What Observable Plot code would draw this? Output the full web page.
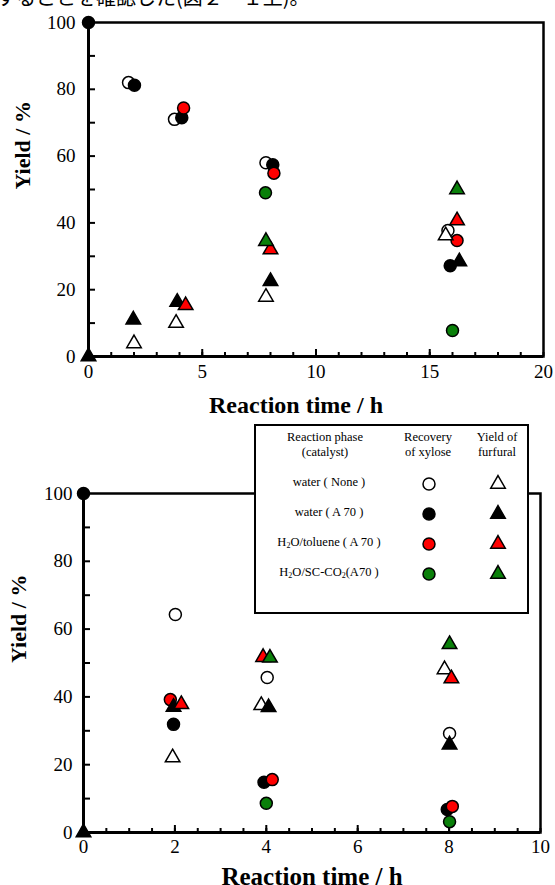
<!DOCTYPE html>
<html>
<head>
<meta charset="utf-8">
<script src="https://cdn.jsdelivr.net/npm/d3@7"></script>
<script src="https://cdn.jsdelivr.net/npm/@observablehq/plot@0.6"></script>
<style>
  html, body { margin: 0; padding: 0; background: #fff; }
  #page { position: relative; width: 555px; height: 885px; overflow: hidden; background: #fff; }
  #topText { position: absolute; left: -4px; top: -13px; font-family: "Noto Sans CJK JP", sans-serif; font-size: 20px; line-height: 20px; white-space: nowrap; color: #000; }
  #chartTop { position: absolute; left: 0; top: 0; }
  #chartBottom { position: absolute; left: 0; top: 420px; }
  #legend { position: absolute; left: 254px; top: 424px; width: 275px; height: 190px; box-sizing: border-box;
            border: 2px solid #000; background: #fff; font-family: "Liberation Serif", "Times New Roman", Times, "DejaVu Serif", serif; font-size: 12.5px; color: #000; }
  #legend .t { position: absolute; transform: translate(-50%, -50%); white-space: nowrap; text-align: center; line-height: 15px; }
  #legend sub { font-size: 8px; vertical-align: -2px; line-height: 0; }
  #legend svg { position: absolute; overflow: visible; }
</style>
</head>
<body>
<div id="page">
  <div id="chartTop"></div>
  <div id="chartBottom"></div>
  <div id="topText">することを確認した(図２－１上)。</div>
  <div id="legend"></div>
</div>
<script>
// ---------------- data ----------------
const phases = ["water ( None )", "water ( A 70 )", "H2O/toluene ( A 70 )", "H2O/SC-CO2(A70 )"];
const phaseFill = ["#ffffff", "#000000", "#ff0000", "#0a800a"];

// Top chart: [time h, yield %]
const topXyloseNone    = [[1.76, 82.0], [3.78, 71.0], [7.8, 58.0], [15.8, 37.7]];
const topXyloseA70     = [[0, 100], [2.02, 81.2], [4.1, 71.5], [8.1, 57.4], [15.9, 27.2]];
const topXyloseToluene = [[4.18, 74.4], [8.15, 54.9], [16.2, 34.7]];
const topXyloseSCCO2   = [[7.78, 49.0], [16.0, 7.8]];
const topFurfuralNone    = [[2.0, 3.9], [3.85, 10.0], [7.8, 17.8], [15.7, 36.2]];
const topFurfuralA70     = [[0, 0], [1.97, 11.0], [3.9, 16.3], [8.0, 22.5], [16.3, 28.4]];
const topFurfuralToluene = [[4.27, 15.3], [8.0, 32.0], [16.2, 40.7]];
const topFurfuralSCCO2   = [[7.8, 34.5], [16.2, 50.0]];

// Bottom chart: [time h, yield %]
const botXyloseNone    = [[2.01, 64.3], [4.02, 45.7], [8.01, 29.2]];
const botXyloseA70     = [[0, 100], [1.97, 31.9], [3.95, 14.8], [7.96, 6.8]];
const botXyloseToluene = [[1.9, 39.2], [4.13, 15.6], [8.07, 7.7]];
const botXyloseSCCO2   = [[4.0, 8.6], [8.01, 3.2]];
const botFurfuralNone    = [[1.95, 22.1], [3.89, 37.5], [7.9, 48.1]];
const botFurfuralA70     = [[0, 0], [1.97, 37.0], [4.05, 36.9], [8.01, 25.9]];
const botFurfuralToluene = [[2.14, 37.8], [3.93, 51.7], [8.05, 45.4]];
const botFurfuralSCCO2   = [[4.08, 51.5], [8.01, 55.5]];

// ticks
const yLabelTicks = [0, 20, 40, 60, 80, 100];
const yMinorTicks = [0, 10, 20, 30, 40, 50, 60, 70, 80, 90, 100];
const topXLabelTicks = [0, 5, 10, 15, 20];
const topXMinorTicks = d3.range(0, 21, 1);
const botXLabelTicks = [0, 2, 4, 6, 8, 10];
const botXMinorTicks = d3.range(0, 10.01, 0.5);

const xTitle = "Reaction time / h";
const yTitle = "Yield / %";

const serif = '"Liberation Serif", "Times New Roman", Times, "DejaVu Serif", serif';

// ---------------- drawing ----------------
function seriesMarks(xyl, fur) {
  const marks = [];
  xyl.forEach((data, i) => marks.push(Plot.dot(data, {x: d => d[0], y: d => d[1], r: 6, symbol: "circle",
    fill: phaseFill[i], stroke: "#000", strokeWidth: 1.5})));
  fur.forEach((data, i) => marks.push(Plot.dot(data, {x: d => d[0], y: d => d[1], r: 5.4, symbol: "triangle",
    fill: phaseFill[i], stroke: "#000", strokeWidth: 1.5})));
  return marks;
}

function makeChart(cfg) {
  return Plot.plot({
    width: 555, height: cfg.height,
    marginLeft: cfg.ml, marginRight: cfg.mr, marginTop: cfg.mt, marginBottom: cfg.mb,
    x: {domain: cfg.xDomain},
    y: {domain: [0, 100]},
    style: {fontFamily: serif, fontSize: "19px", color: "#000", background: "transparent", overflow: "visible"},
    marks: [
      Plot.frame({stroke: "#000", strokeWidth: 2.5}),
      Plot.axisY({ticks: yMinorTicks, tickSize: 7, dx: 7, tickFormat: () => "", label: null, strokeWidth: 2}),
      Plot.axisY({ticks: yLabelTicks, tickSize: 0, tickPadding: cfg.yPad, label: null, fontSize: 19, fontFamily: serif}),
      Plot.axisX({ticks: cfg.xMinor, tickSize: 4, dy: -4, tickFormat: () => "", label: null, strokeWidth: 2}),
      Plot.axisX({ticks: cfg.xMajor, tickSize: 7, dy: -7, tickFormat: () => "", label: null, strokeWidth: 2}),
      Plot.axisX({ticks: cfg.xLabels, tickSize: 0, tickPadding: cfg.xPad, label: null, fontSize: 19, fontFamily: serif}),
      Plot.ruleX([cfg.xDomain[0]], {stroke: "#000", strokeWidth: 3}),
      Plot.ruleY([0], {stroke: "#000", strokeWidth: 3}),
      Plot.text([xTitle], {frameAnchor: "bottom", dy: cfg.xTitleDy, dx: cfg.xTitleDx, text: d => d,
        fontWeight: "bold", fontSize: cfg.xTitleSize, fontFamily: serif, lineAnchor: "middle"}),
      Plot.text([yTitle], {frameAnchor: "left", dx: cfg.yTitleDx, rotate: -90, text: d => d,
        fontWeight: "bold", fontSize: 22, fontFamily: serif, lineAnchor: "middle"}),
      ...seriesMarks(cfg.xyl, cfg.fur)
    ]
  });
}

document.getElementById("chartTop").appendChild(makeChart({
  height: 420, ml: 88, mr: 12, mt: 22, mb: 64,
  xDomain: [0, 20], xMinor: topXMinorTicks, xMajor: [5, 10, 15], xLabels: topXLabelTicks,
  yPad: 13, xPad: 8, xTitleDy: 49, xTitleDx: -20, xTitleSize: 24, yTitleDx: -66,
  xyl: [topXyloseNone, topXyloseA70, topXyloseToluene, topXyloseSCCO2],
  fur: [topFurfuralNone, topFurfuralA70, topFurfuralToluene, topFurfuralSCCO2]
}));

document.getElementById("chartBottom").appendChild(makeChart({
  height: 465, ml: 83, mr: 15, mt: 73, mb: 53,
  xDomain: [0, 10], xMinor: botXMinorTicks, xMajor: [2, 4, 6, 8], xLabels: botXLabelTicks,
  yPad: 11, xPad: 7, xTitleDy: 44, xTitleDx: 0, xTitleSize: 25, yTitleDx: -65,
  xyl: [botXyloseNone, botXyloseA70, botXyloseToluene, botXyloseSCCO2],
  fur: [botFurfuralNone, botFurfuralA70, botFurfuralToluene, botFurfuralSCCO2]
}));

// ---------------- legend ----------------
const legend = document.getElementById("legend");
const L0 = {x: 256, y: 426}; // inner origin (box left/top + border)
function addText(html, x, y) {
  const d = document.createElement("div");
  d.className = "t";
  d.innerHTML = html;
  d.style.left = (x - L0.x) + "px";
  d.style.top = (y - L0.y) + "px";
  legend.appendChild(d);
}
const ns = "http://www.w3.org/2000/svg";
function addSymbol(kind, fill, x, y) {
  const s = document.createElementNS(ns, "svg");
  s.setAttribute("width", 16); s.setAttribute("height", 16);
  s.style.left = (x - L0.x - 8) + "px";
  s.style.top = (y - L0.y - 8) + "px";
  const p = document.createElementNS(ns, "path");
  const sym = kind === "circle" ? d3.symbolCircle : d3.symbolTriangle;
  const size = kind === "circle" ? Math.PI * 6 * 6 : Math.PI * 5.4 * 5.4;
  p.setAttribute("d", d3.symbol(sym, size)());
  p.setAttribute("transform", "translate(8,8)");
  p.setAttribute("fill", fill);
  p.setAttribute("stroke", "#000");
  p.setAttribute("stroke-width", 1.5);
  s.appendChild(p);
  legend.appendChild(s);
}
addText("Reaction phase<br>(catalyst)", 325, 445);
addText("Recovery<br>of xylose", 428, 445);
addText("Yield of<br>furfural", 497, 445);
const phaseHtml = ["water ( None )", "water ( A 70 )", "H<sub>2</sub>O/toluene ( A 70 )", "H<sub>2</sub>O/SC-CO<sub>2</sub>(A70 )"];
const rowY = [482, 512, 542, 572];
phaseHtml.forEach((h, i) => {
  addText(h, 329, rowY[i]);
  addSymbol("circle", phaseFill[i], 429, rowY[i] + 2);
  addSymbol("triangle", phaseFill[i], 498, rowY[i] + 2);
});
</script>
</body>
</html>
